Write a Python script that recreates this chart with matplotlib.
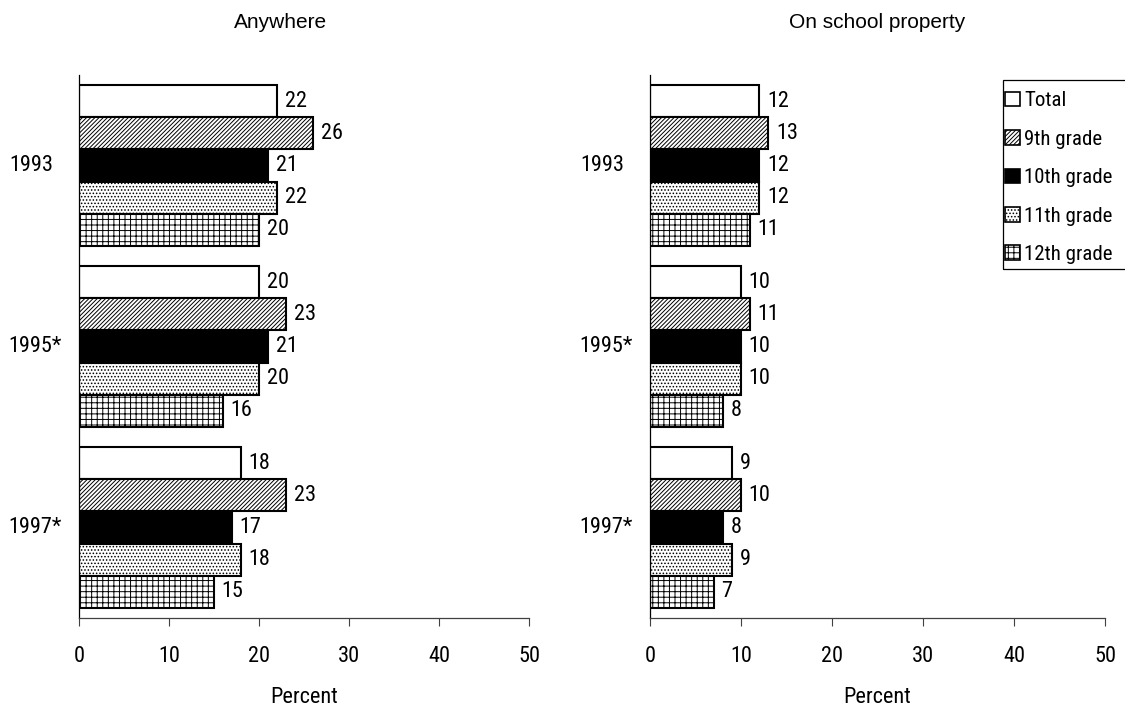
import matplotlib
matplotlib.use("Agg")
import matplotlib.pyplot as plt
from matplotlib import font_manager, transforms
from matplotlib.patches import Patch, Rectangle
import numpy as np

# ---- data ----
years = ["1993", "1995*", "1997*"]
groups = ["Total", "9th grade", "10th grade", "11th grade", "12th grade"]
anywhere = {
    "Total":      [22, 20, 18],
    "9th grade":  [26, 23, 23],
    "10th grade": [21, 21, 17],
    "11th grade": [22, 20, 18],
    "12th grade": [20, 16, 15],
}
school = {
    "Total":      [12, 10, 9],
    "9th grade":  [13, 11, 10],
    "10th grade": [12, 10, 8],
    "11th grade": [12, 10, 9],
    "12th grade": [11, 8, 7],
}
panel_titles = ["Anywhere", "On school property"]
xticks = [0, 10, 20, 30, 40, 50]
xlabel = "Percent"

# ---- fonts ----
def find_condensed():
    for n in ["Liberation Sans Narrow", "Arial Narrow", "Roboto Condensed", "Open Sans Condensed"]:
        try:
            p = font_manager.findfont(font_manager.FontProperties(family=n), fallback_to_default=False)
            return font_manager.FontProperties(fname=p)
        except Exception:
            pass
    return None

cond_fp = find_condensed()
regular = "Liberation Sans"
plt.rcParams["font.family"] = [regular, "DejaVu Sans"]
plt.rcParams["hatch.linewidth"] = 0.7
FS = 16

def tp(size):
    if cond_fp is not None:
        fp = cond_fp.copy()
        fp.set_size(size)
        return fp
    return font_manager.FontProperties(family=regular, size=size)

styles = {
    "Total":      dict(facecolor="white", hatch=None),
    "9th grade":  dict(facecolor="white", hatch="////////"),
    "10th grade": dict(facecolor="black", hatch=None),
    "11th grade": dict(facecolor="white", hatch="....."),
    "12th grade": dict(facecolor="white", hatch="+++"),
}

W, H = 1125, 710
fig = plt.figure(figsize=(W / 100, H / 100), dpi=100)

axes_px = [(79, 450), (650, 455)]
top_px, bot_px = 75, 618
bh = 0.178
for k, (data, (x0, w)) in enumerate(zip([anywhere, school], axes_px)):
    ax = fig.add_axes([x0 / W, 1 - bot_px / H, w / W, (bot_px - top_px) / H])
    centers = np.arange(len(years))
    for i, g in enumerate(groups):
        pos = centers + (i - 2) * bh
        st = styles[g]
        ax.barh(pos, data[g], height=bh, facecolor=st["facecolor"],
                edgecolor="black", linewidth=1.5, hatch=st["hatch"], label=g)
        for p, v in zip(pos, data[g]):
            ax.annotate(str(v), (v, p), xytext=(5.5, 0), textcoords="offset points",
                        va="center", ha="left", fontproperties=tp(FS))
    ax.set_xlim(0, 50)
    ax.set_ylim(2.5, -0.5)
    ax.set_xticks(xticks)
    ax.set_xticklabels([str(t) for t in xticks])
    for lab in ax.get_xticklabels():
        lab.set_fontproperties(tp(FS))
    ax.tick_params(axis="x", length=5.5, width=0.8, color="#404040", pad=15)
    ax.set_yticks([])
    for s in ["top", "right"]:
        ax.spines[s].set_visible(False)
    ax.spines["bottom"].set_color("#404040")
    ax.spines["bottom"].set_linewidth(0.9)
    ax.spines["left"].set_color("black")
    ax.spines["left"].set_linewidth(0.9)
    ax.set_xlabel(xlabel, labelpad=14, fontproperties=tp(FS))
    for c, y in zip(centers, years):
        off = -17 if y.endswith("*") else -26
        tr = transforms.offset_copy(ax.get_yaxis_transform(), fig=fig, x=off * 72 / 100, y=0, units="points")
        ax.text(0, c, y, transform=tr, ha="right", va="center", fontproperties=tp(FS))

fig.text(281 / W, 1 - 22 / H, panel_titles[0], ha="center", va="center", fontsize=15, family=[regular])
fig.text(877 / W, 1 - 22 / H, panel_titles[1], ha="center", va="center", fontsize=15, family=[regular])

handles = [Patch(facecolor=styles[g]["facecolor"], edgecolor="black", hatch=styles[g]["hatch"],
                 linewidth=1.2, label=g) for g in groups]
leg = fig.legend(handles=handles, loc="upper left", bbox_to_anchor=(995 / W, 1 - 81 / H),
                 prop=tp(15), frameon=False,
                 handlelength=0.7, handleheight=0.7, handletextpad=0.2,
                 labelspacing=0.93, borderpad=0.5, borderaxespad=0)
# legend frame running past the right edge, as in the reference
fig.patches.append(Rectangle((1003 / W, 1 - 269 / H), 140 / W, (269 - 80) / H,
                             transform=fig.transFigure, fill=False, edgecolor="black",
                             linewidth=0.9, zorder=0))

fig.savefig("out.png", dpi=100)
